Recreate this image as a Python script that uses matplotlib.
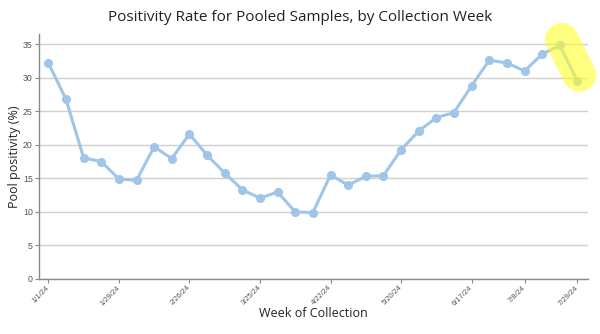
import matplotlib
matplotlib.use("Agg")
import matplotlib.pyplot as plt
import matplotlib.transforms as mtransforms
import pandas as pd

title = "Positivity Rate for Pooled Samples, by Collection Week"
xlabel = "Week of Collection"
ylabel = "Pool positivity (%)"

start_week = "2024-01-01"
positivity = [32.2, 26.8, 18.05, 17.5, 14.9, 14.7, 19.7, 17.95, 21.6, 18.45,
              15.8, 13.3, 12.05, 12.95, 10.0, 9.9, 15.5, 14.0, 15.3, 15.4,
              19.25, 22.05, 24.05, 24.8, 28.8, 32.6, 32.2, 31.0, 33.5, 34.8, 29.5]
tick_labels = ["1/1/24", "1/29/24", "2/26/24", "3/25/24", "4/22/24",
               "5/20/24", "6/17/24", "7/8/24", "7/29/24"]
y_ticks = [0, 5, 10, 15, 20, 25, 30, 35]

weeks = pd.date_range(start_week, periods=len(positivity), freq="7D")
tick_dates = pd.to_datetime(tick_labels, format="%m/%d/%y")

fig = plt.figure(figsize=(6, 3.34), dpi=100)
ax = fig.add_axes([0.065, 0.1647, 0.915, 0.7333])

line_color = "#9fc5e8"
ax.plot(weeks, positivity, color=line_color, lw=2.2, marker="o", ms=5.5,
        zorder=3, solid_joinstyle="round")
# highlight last segment (hand-drawn marker style, slightly offset)
hl_trans = mtransforms.offset_copy(ax.transData, fig=fig, x=2, y=6, units="dots")
ax.plot(weeks[-2:], positivity[-2:], color="#ffff2a", alpha=0.6, lw=24,
        solid_capstyle="round", zorder=4, clip_on=False, transform=hl_trans)

ax.set_ylim(0, 36.5)
ax.set_yticks(y_ticks)
x0 = weeks[0] - pd.Timedelta(days=3.7)
x1 = weeks[-1] + pd.Timedelta(days=4.2)
ax.set_xlim(x0, x1)
ax.set_xticks(tick_dates)
ax.set_xticklabels(tick_labels, rotation=45, ha="right", va="center",
                   rotation_mode="anchor", fontsize=5.4, color="#555555",
                   family="Liberation Sans")
for lbl in ax.get_yticklabels():
    lbl.set_fontsize(6.3)
    lbl.set_color("#555555")
    lbl.set_family("Liberation Sans")

ax.grid(axis="y", color="#d0d0d0", lw=1)
ax.set_axisbelow(True)
for s in ["top", "right"]:
    ax.spines[s].set_visible(False)
for s in ["left", "bottom"]:
    ax.spines[s].set_color("#888888")
    ax.spines[s].set_linewidth(1)
ax.tick_params(axis="both", length=3, color="#888888", width=0.8, pad=1.5)
ax.tick_params(axis="x", pad=2.5)

fig.text(0.5, 0.948, title, ha="center", va="center", fontsize=11,
         family="Open Sans", color="#222222")
fig.text(0.522, 0.06, xlabel, ha="center", va="center", fontsize=9,
         family="Open Sans", color="#222222")
ax.set_ylabel(ylabel, fontsize=9, family="Open Sans", color="#222222", labelpad=1)

fig.savefig("out.png", dpi=100)
